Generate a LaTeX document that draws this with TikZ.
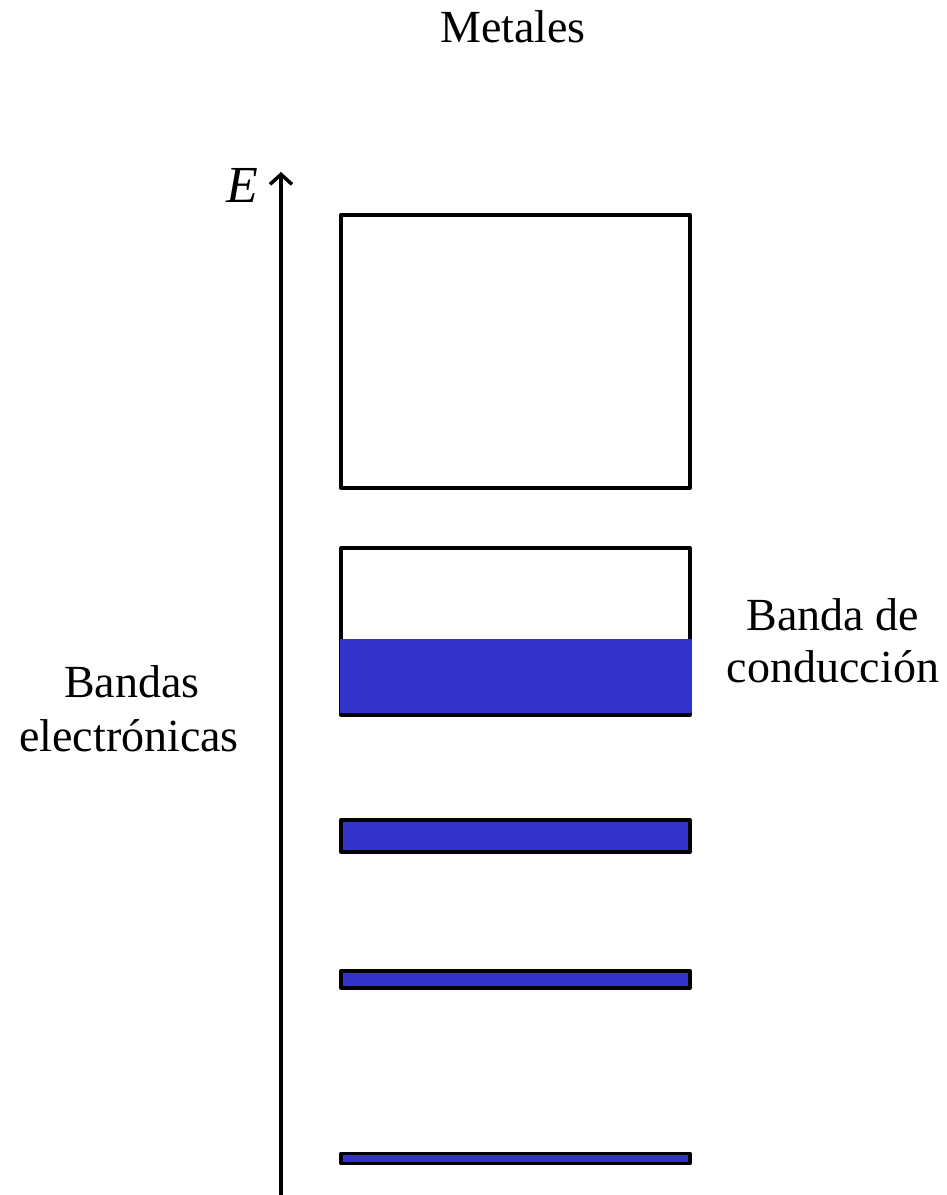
\documentclass[tikz,border=0pt]{standalone}
\usepackage{fontspec}
\setmainfont{Liberation Serif}
\usetikzlibrary{arrows.meta}
\definecolor{bandblue}{RGB}{51,51,204}
\tikzset{
  band/.style={draw=black, line width=3.3pt, line join=round},
  filled/.style={band, fill=bandblue},
  lbl/.style={font=\fontsize{46}{53}\selectfont, align=center, inner sep=0pt}
}
\begin{document}
\begin{tikzpicture}[x=1pt,y=-1pt]
\useasboundingbox (0,0) rectangle (947,1195);
% energy axis
\coordinate (axbot) at (281,1195);
\coordinate (axtop) at (281,172);
\draw[line width=3.5pt, -{Straight Barb[length=10pt,width=22pt,line width=3.5pt]}] (axbot) -- (axtop);
\node[font=\fontsize{52}{60}\selectfont\itshape, anchor=base, inner sep=0pt] (E) at (242,202) {E};
% bands
\draw[band, fill=white] (341,215) rectangle (690,488);
\draw[band, fill=white] (341,548) rectangle (690,715);
\fill[bandblue] (339.5,639) rectangle (691.5,713.4);
\draw[filled] (341,820) rectangle (690,852);
\draw[filled] (341,971) rectangle (690,988);
\draw[filled] (341,1153.5) rectangle (690,1163.5);
% labels
\node[lbl, anchor=base] (title) at (513,42) {Metales};
\node[lbl, anchor=base] (bc1) at (833,630) {Banda de};
\node[lbl, anchor=base] (bc2) at (833,682) {conducción};
\node[lbl, anchor=base] (be1) at (132,697) {Bandas};
\node[lbl, anchor=base] (be2) at (129,751) {electrónicas};
\end{tikzpicture}
\end{document}
